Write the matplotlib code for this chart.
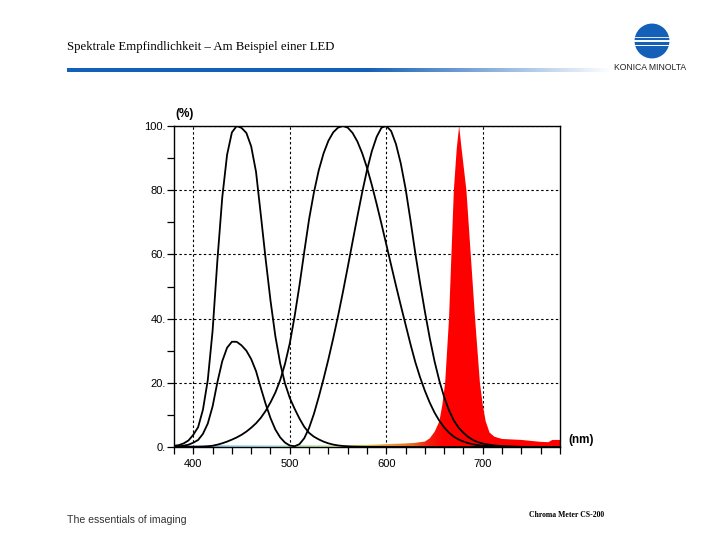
"""Spectral sensitivity slide: CIE curves (normalised) plus a red LED spectrum."""

import matplotlib

matplotlib.use("Agg")
import matplotlib.pyplot as plt  # noqa: E402
import numpy as np  # noqa: E402
from matplotlib.colors import LinearSegmentedColormap, Normalize  # noqa: E402
from matplotlib.patches import Circle  # noqa: E402

# wavelengths (nm) for the three sensitivity curves
wl = [380, 385, 390, 395, 400, 405, 410, 415, 420, 425, 430, 435, 440, 445,
      450, 455, 460, 465, 470, 475, 480, 485, 490, 495, 500, 505, 510, 515,
      520, 525, 530, 535, 540, 545, 550, 555, 560, 565, 570, 575, 580, 585,
      590, 595, 600, 605, 610, 615, 620, 625, 630, 635, 640, 645, 650, 655,
      660, 665, 670, 675, 680, 685, 690, 695, 700, 710, 720, 730, 740, 750,
      760, 770, 780]
# relative sensitivity (%)
x_bar = [0.13, 0.21, 0.40, 0.72, 1.35, 2.18, 4.10, 7.31, 12.65, 20.22, 26.73,
         30.93, 32.79, 32.77, 31.65, 30.00, 27.38, 23.64, 18.39, 13.38, 9.00,
         5.46, 3.01, 1.38, 0.46, 0.23, 0.88, 2.74, 5.96, 10.32, 15.58, 21.25,
         27.34, 33.86, 40.81, 48.21, 55.97, 63.87, 71.75, 79.32, 86.26, 92.13,
         96.62, 99.48, 100.0, 98.44, 94.39, 88.34, 80.44, 70.74, 60.48, 51.02,
         42.17, 33.97, 26.69, 20.59, 15.52, 11.41, 8.23, 5.99, 4.40, 3.10,
         2.14, 1.49, 1.07, 0.55, 0.27, 0.14, 0.06, 0.03, 0.02, 0.01, 0.00]
y_bar = [0.00, 0.01, 0.01, 0.02, 0.04, 0.06, 0.12, 0.22, 0.40, 0.73, 1.16,
         1.68, 2.30, 2.98, 3.80, 4.80, 6.00, 7.39, 9.10, 11.26, 13.90, 16.93,
         20.80, 25.86, 32.30, 40.73, 50.30, 60.82, 71.00, 79.32, 86.20, 91.49,
         95.40, 98.03, 99.50, 100.0, 99.50, 97.86, 95.20, 91.54, 87.00, 81.63,
         75.70, 69.49, 63.10, 56.68, 50.30, 44.12, 38.10, 32.10, 26.50, 21.70,
         17.50, 13.82, 10.70, 8.16, 6.10, 4.46, 3.20, 2.32, 1.70, 1.19, 0.82,
         0.57, 0.41, 0.21, 0.10, 0.05, 0.02, 0.01, 0.01, 0.00, 0.00]
z_bar = [0.36, 0.59, 1.12, 2.03, 3.81, 6.18, 11.63, 20.83, 36.22, 58.29, 77.73,
         91.04, 98.01, 100.0, 99.41, 97.84, 93.64, 85.72, 72.23, 58.45, 45.61,
         34.57, 26.10, 19.82, 15.26, 11.91, 8.87, 6.27, 4.39, 3.21, 2.37, 1.67,
         1.14, 0.75, 0.49, 0.32, 0.22, 0.15, 0.12, 0.10, 0.09, 0.08, 0.06,
         0.06, 0.04, 0.03, 0.02, 0.01, 0.01, 0.00, 0.00, 0.00, 0.00, 0.00,
         0.00, 0.00, 0.00, 0.00, 0.00, 0.00, 0.00, 0.00, 0.00, 0.00, 0.00,
         0.00, 0.00, 0.00, 0.00, 0.00, 0.00, 0.00, 0.00]

# red LED spectrum (%)
led_nm = [380, 400, 450, 500, 550, 580, 600, 620, 630, 640, 645, 650, 655,
          658, 661, 665, 667.5, 670, 673, 675.5, 678, 683, 687.5, 692, 697,
          700, 703, 707, 712, 720, 740, 760, 768, 772, 780]
led_pct = [0.5, 0.5, 0.6, 0.6, 0.6, 0.7, 0.9, 1.1, 1.3, 1.7, 2.7, 4.7, 8.0,
           13.0, 20.0, 40.0, 60.0, 80.0, 93.0, 100.0, 93.0, 80.0, 60.0, 40.0,
           20.0, 13.0, 8.0, 4.5, 3.2, 2.5, 2.2, 1.6, 1.5, 2.2, 2.2]

x_ticks = [400, 500, 600, 700]
y_ticks = [0, 20, 40, 60, 80, 100]
y_labels = ["0.", "20.", "40.", "60.", "80.", "100."]

TITLE = "Spektrale Empfindlichkeit – Am Beispiel einer LED"
BLUE = "#1460b8"

fig = plt.figure(figsize=(7.2, 5.4), dpi=100)
fig.patch.set_facecolor("white")

# header: title, gradient rule, logo
fig.text(67 / 720, 1 - 47 / 540, TITLE, family="Liberation Serif",
         fontsize=9.2, va="center", ha="left")
bar = fig.add_axes([67 / 720, 1 - 72 / 540, 545 / 720, 4 / 540])
t = np.linspace(0, 1, 400)
fade = np.clip((t - 0.55) / 0.45, 0, 1)
base = np.array(matplotlib.colors.to_rgb(BLUE))
rgb = base[None, :] * (1 - fade[:, None]) + fade[:, None]
bar.imshow(rgb[None, :, :], aspect="auto")
bar.axis("off")

logo = fig.add_axes([630 / 720, 1 - 59 / 540, 44 / 720, 36 / 540])
logo.set_xlim(-1.22, 1.22)
logo.set_ylim(-1, 1)
logo.set_aspect("equal")
logo.add_patch(Circle((0, 0), 0.93, color=BLUE))
for yy, lw in [(0.22, 0.6), (0.02, 1.4), (-0.2, 0.7)]:
    logo.plot([-0.95, 0.95], [yy, yy], color="white", lw=lw)
logo.axis("off")
fig.text(650 / 720, 1 - 68 / 540, "KONICA MINOLTA", fontsize=6.2,
         family="Liberation Sans", ha="center", va="center", color="#222")

# footer
fig.text(67 / 720, 1 - 520 / 540, "The essentials of imaging",
         family="Liberation Sans", fontsize=7.6, va="center", color="#333")
fig.text(567 / 720, 1 - 515 / 540, "Chroma Meter CS-200",
         family="Liberation Serif", fontsize=5.6, fontweight="bold",
         ha="center", va="center")

# chart
ax = fig.add_axes([174 / 720, 93 / 540, 386 / 720, 321 / 540])

spec = LinearSegmentedColormap.from_list("spec", [
    (0.00, "#6a6ab0"), (0.15, "#9fdcf0"), (0.25, "#b4ecf6"),
    (0.33, "#b8e8b0"), (0.42, "#d8ecb0"), (0.50, "#f0e070"),
    (0.55, "#e8a040"), (0.62, "#e06a20"), (0.66, "#f02010"),
    (0.70, "#ff0000"), (1.00, "#ff0000")])
poly = ax.fill_between(led_nm, 0, led_pct, facecolor="none", lw=0)
grad = np.linspace(380, 780, 800).reshape(1, -1)
im = ax.imshow(grad, extent=[380, 780, 0, 100], aspect="auto", cmap=spec,
               norm=Normalize(380, 780), origin="lower", zorder=1)
im.set_clip_path(poly.get_paths()[0], transform=ax.transData)

for curve in (x_bar, y_bar, z_bar):
    ax.plot(wl, curve, color="black", lw=1.3, zorder=3)

ax.set_xlim(380, 780)
ax.set_ylim(0, 100)
ax.set_xticks(x_ticks)
ax.set_xticks(list(range(380, 781, 20)), minor=True)
ax.set_yticks(y_ticks)
ax.set_yticks(list(range(10, 100, 20)), minor=True)
ax.set_yticklabels(y_labels)
ax.set_axisbelow(True)
ax.grid(True, which="major", color="black", ls=(0, (2.2, 2.2)), lw=0.8)
ax.tick_params(which="both", direction="out", length=5, width=0.9,
               labelsize=8, colors="black")
for lab in ax.get_xticklabels() + ax.get_yticklabels():
    lab.set_family("Liberation Sans")
ax.tick_params(axis="y", pad=1)
for s in ax.spines.values():
    s.set_linewidth(1.0)

fig.text(185 / 720, 1 - 114 / 540, "(%)", fontsize=8.5, fontweight="bold",
         ha="center", va="center", family="Liberation Sans")
fig.text(581 / 720, 1 - 440 / 540, "(nm)", fontsize=8.5, fontweight="bold",
         ha="center", va="center", family="Liberation Sans")

fig.savefig("out.png", dpi=100, facecolor="white")
plt.close(fig)
